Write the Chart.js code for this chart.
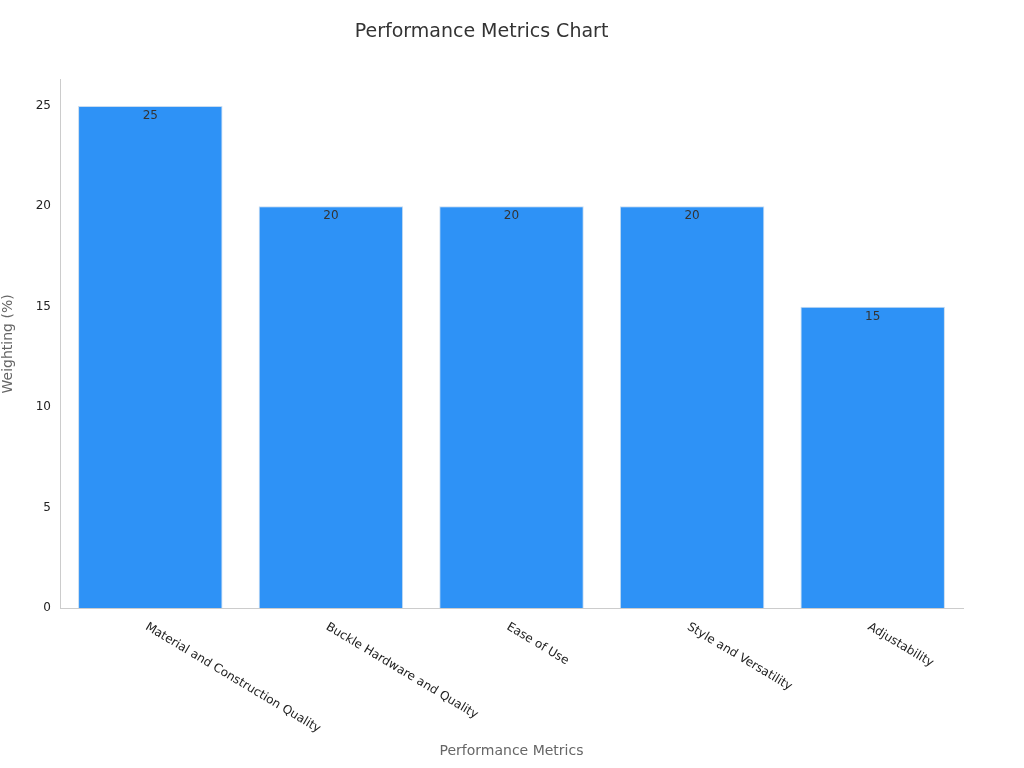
<!DOCTYPE html>
<html><head><meta charset="utf-8">
<script src="https://cdn.jsdelivr.net/npm/chart.js@4"></script>
<style>html,body{margin:0;padding:0;background:#fff}#w{width:1024px;height:768px}</style>
</head><body><div id="w"><canvas id="c"></canvas></div>
<script>
const categories = ["Material and Construction Quality","Buckle Hardware and Quality","Ease of Use","Style and Versatility","Adjustability"];
const weights = [25,20,20,20,15];
const yTicks = [0,5,10,15,20,25];
const FONT = "'DejaVu Sans', sans-serif";

const labelsPlugin = {
  id:'lbl',
  afterDatasetsDraw(chart){
    const ctx = chart.ctx, meta = chart.getDatasetMeta(0), xs = chart.scales.x;
    ctx.save();
    ctx.font = "12px " + FONT;
    ctx.fillStyle = "#333";
    ctx.textAlign = "center"; ctx.textBaseline = "top";
    meta.data.forEach((b,i)=>{ ctx.fillText(String(weights[i]), b.x, b.y + 4); });
    ctx.fillStyle = "#222";
    ctx.textAlign = "left"; ctx.textBaseline = "middle";
    categories.forEach((c,i)=>{
      const x = xs.getPixelForValue(i);
      ctx.save();
      ctx.translate(x - 4, chart.chartArea.bottom + 18);
      ctx.rotate(31*Math.PI/180);
      ctx.fillText(c, 0, 0);
      ctx.restore();
    });
    ctx.restore();
  }
};

new Chart(document.getElementById('c'), {
  type:'bar',
  data:{ labels: categories, datasets:[{ data: weights, backgroundColor:'#2e92f6', borderColor:'#c8dcf0', borderWidth:1, barPercentage:0.8, categoryPercentage:1 }]},
  options:{
    responsive:true, maintainAspectRatio:false, animation:false,
    layout:{ padding:{ left:0, right:61, top:0, bottom:0 } },
    plugins:{ legend:{display:false}, tooltip:{enabled:false},
      title:{ display:true, text:'Performance Metrics Chart', color:'#333', font:{family:FONT, size:19, weight:'normal'}, padding:{top:21, bottom:36} } },
    scales:{
      x:{ grid:{display:false, drawTicks:true}, border:{color:'#ccc'},
          ticks:{ display:false },
          title:{ display:true, text:'Performance Metrics', color:'#666', font:{family:FONT, size:14}, padding:{top:0, bottom:8} },
          afterFit(s){ s.height = 160; } },
      y:{ min:0, max:26.3, afterBuildTicks(s){ s.ticks = yTicks.map(v=>({value:v})); },
          grid:{display:false, drawTicks:true, tickLength:5, tickColor:'#999'}, border:{color:'#ccc'},
          ticks:{ color:'#222', font:{family:FONT, size:12}, padding:4 },
          title:{ display:true, text:'Weighting (%)', color:'#666', font:{family:FONT, size:14}, padding:{top:0,bottom:6} },
          afterFit(s){ s.width = 60; } }
    }
  },
  plugins:[labelsPlugin]
});
</script></body></html>
